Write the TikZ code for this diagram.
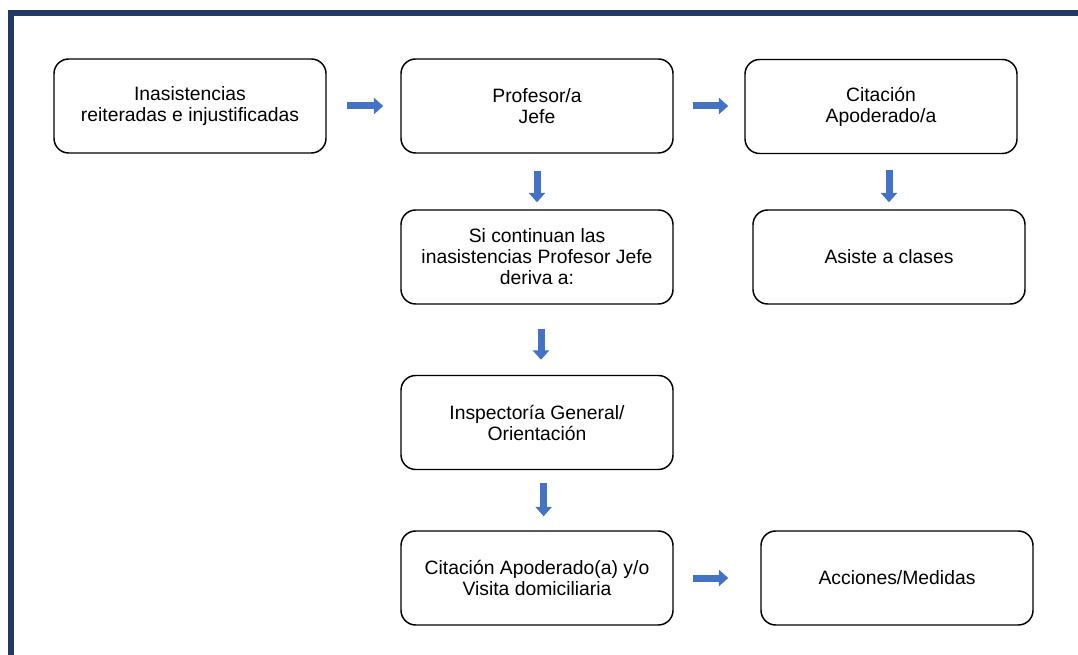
\documentclass[tikz,border=0pt]{standalone}
\usepackage{fontspec}
\setmainfont{Liberation Sans}
\usetikzlibrary{arrows.meta}
\definecolor{marco}{RGB}{31,56,100}
\definecolor{azul}{RGB}{68,114,196}
\begin{document}
\begin{tikzpicture}[x=0.75pt,y=-0.75pt,
    caja/.style={draw, line width=1.1pt, rounded corners=11pt, minimum width=204pt,
        minimum height=70.5pt, align=center, font=\fontsize{14.5}{15.75}\selectfont},
    flecha/.style={azul, line width=5.25pt, -{Triangle[length=7pt,width=12pt]}}]
    \useasboundingbox (0,0) rectangle (1078,655);
    \draw[marco, line width=4.5pt] (11,655) -- (11,13.5) -- (1078,13.5);

    \node[caja] (ina) at (190,106) {Inasistencias\\reiteradas e injustificadas};
    \node[caja] (prof) at (537,106) {Profesor/a\\Jefe};
    \node[caja] (cit) at (881,106.5) {Citación\\Apoderado/a};
    \node[caja] (si) at (537,257) {Si continuan las\\inasistencias Profesor Jefe\\deriva a:};
    \node[caja] (asiste) at (889,257) {Asiste a clases};
    \node[caja] (insp) at (537,422.5) {Inspectoría General/\\Orientación};
    \node[caja] (cit2) at (537,578) {Citación Apoderado(a) y/o\\Visita domiciliaria};
    \node[caja] (acc) at (897,578) {Acciones/Medidas};

%    flechas de bloque entre las cajas
    \draw[flecha, shorten <=15pt, shorten >=12.75pt] (ina) -- (prof);
    \draw[flecha, shorten <=14.25pt, shorten >=12pt] (prof.east) -- (prof.east -| cit.west);
    \draw[flecha, shorten <=12.75pt, shorten >=5.25pt] (prof) -- (si);
    \draw[flecha, shorten <=12pt, shorten >=5.25pt] (asiste.north |- cit.south) -- (asiste.north);
    \draw[flecha, shorten <=18pt, shorten >=11.25pt] ([xshift=3pt]si.south) -- ([xshift=3pt]insp.north);
    \draw[flecha, shorten <=9.75pt, shorten >=10.5pt] ([xshift=5pt]insp.south) -- ([xshift=5pt]cit2.north);
    \draw[flecha, shorten <=14.25pt, shorten >=24pt] (cit2) -- (acc);

\end{tikzpicture}
\end{document}
